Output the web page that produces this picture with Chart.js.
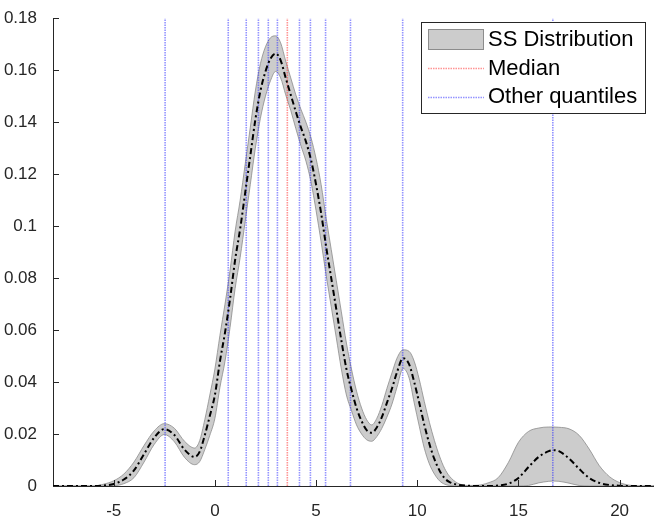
<!DOCTYPE html>
<html><head><meta charset="utf-8">
<script src="https://cdn.jsdelivr.net/npm/chart.js@4"></script>
<style>html,body{margin:0;padding:0;background:#fff;} #wrap{width:654px;height:519px;position:relative;}</style>
</head><body><div id="wrap"><canvas id="c" width="654" height="519"></canvas></div>
<script>
const xGrid = [-8,-6,-5.5,-5,-4.5,-4,-3.5,-3,-2.5,-2,-1.5,-1,-0.75,-0.5,-0.25,0,0.25,0.5,0.75,1,1.25,1.5,1.75,2,2.25,2.5,2.75,3,3.25,3.5,3.75,4,4.25,4.5,4.75,5,5.25,5.5,5.75,6,6.25,6.5,6.75,7,7.25,7.5,7.75,8,8.25,8.5,8.75,9,9.3,9.6,9.85,10.1,10.35,10.6,10.85,11.1,11.35,11.6,12,12.5,13,13.5,14,14.5,15,15.5,16,16.5,16.75,17,17.5,18,18.5,19,19.5,20,20.5,21,21.7];
const meanPdf = [0,0,0.0002,0.0008,0.0025,0.006,0.0123,0.0186,0.0219,0.0196,0.014,0.0112,0.0132,0.0195,0.027,0.035,0.048,0.059,0.072,0.087,0.099,0.113,0.127,0.141,0.152,0.1595,0.1645,0.1664,0.1638,0.157,0.1505,0.144,0.138,0.1325,0.1255,0.116,0.105,0.092,0.080,0.068,0.056,0.045,0.037,0.030,0.025,0.0215,0.0205,0.0225,0.0265,0.032,0.0375,0.0438,0.0492,0.0468,0.040,0.032,0.0235,0.0162,0.0103,0.006,0.003,0.0015,0.0005,0.0001,0,0,0.0002,0.0009,0.0031,0.0073,0.0112,0.0134,0.0138,0.0134,0.0106,0.0066,0.0031,0.0012,0.0004,0.0001,0,0,0];
const upperBand = [0,0,0.0007,0.002,0.0046,0.0092,0.0156,0.0212,0.0240,0.0222,0.0172,0.0146,0.0175,0.0255,0.035,0.045,0.058,0.070,0.083,0.098,0.110,0.124,0.138,0.152,0.1625,0.1690,0.1725,0.1732,0.1705,0.1635,0.157,0.1505,0.145,0.140,0.134,0.126,0.116,0.103,0.091,0.079,0.067,0.055,0.045,0.0365,0.030,0.0255,0.0235,0.026,0.031,0.0375,0.0435,0.0492,0.0524,0.0518,0.048,0.041,0.0325,0.0245,0.0175,0.0115,0.0068,0.0037,0.0011,0.0002,0.0003,0.0012,0.0032,0.009,0.0168,0.021,0.0223,0.0227,0.0227,0.0226,0.0220,0.0195,0.0142,0.0078,0.0036,0.0013,0.0003,0,0];
const lowerBand = [0,0,0,0.0001,0.0009,0.0032,0.0092,0.0160,0.0198,0.0170,0.0110,0.0082,0.0094,0.0140,0.0195,0.026,0.038,0.048,0.061,0.076,0.088,0.102,0.116,0.130,0.1415,0.150,0.156,0.1595,0.1570,0.1505,0.1445,0.1375,0.131,0.125,0.117,0.106,0.094,0.081,0.069,0.057,0.045,0.035,0.029,0.0235,0.020,0.0178,0.0172,0.019,0.0222,0.0265,0.0315,0.038,0.0452,0.0415,0.032,0.023,0.0145,0.0085,0.0046,0.002,0.0007,0.0002,0,0,0,0,0,0,0,0.0002,0.0012,0.0018,0.0019,0.0018,0.0011,0.0002,0,0,0,0,0,0,0];
const medianQ = 3.58;
const otherQ = [-2.46,0.66,1.55,2.15,2.64,3.09,4.18,4.72,5.47,6.70,9.28,16.7];
const xTicks = [-5,0,5,10,15,20];
const xTickLabels = ['-5','0','5','10','15','20'];
const yTicks = [0,0.02,0.04,0.06,0.08,0.1,0.12,0.14,0.16,0.18];
const yTickLabels = ['0','0.02','0.04','0.06','0.08','0.1','0.12','0.14','0.16','0.18'];
const legendLabels = ['SS Distribution','Median','Other quantiles'];

const FONT = '"Liberation Sans", Arial, sans-serif';
const AX = '#262626';
const BLUE = 'rgba(40,40,255,0.5)';
const RED = 'rgba(255,40,40,0.5)';
const pts = arr => xGrid.map((x,i)=>({x:x,y:arr[i]}));
const vline = q => [{x:q,y:0},{x:q,y:0.18}];

const datasets = [
  {data:pts(upperBand), borderColor:'#8c8c8c', borderWidth:0.8, backgroundColor:'#cccccc', fill:'+1', pointRadius:0, cubicInterpolationMode:'monotone', order:5},
  {data:pts(lowerBand), borderColor:'#8c8c8c', borderWidth:0.8, fill:false, pointRadius:0, cubicInterpolationMode:'monotone', order:4},
  {data:vline(medianQ), borderColor:RED, borderWidth:1.6, borderDash:[1.5,1], pointRadius:0, fill:false, order:2}
];
otherQ.forEach(q=>datasets.push({data:vline(q), borderColor:BLUE, borderWidth:1.6, borderDash:[1.5,1], pointRadius:0, fill:false, order:2}));
datasets.push({data:pts(meanPdf), borderColor:'#000', borderWidth:2, borderDash:[6,3,2,3], pointRadius:0, fill:false, cubicInterpolationMode:'monotone', order:1});

const overlay = {
  id:'overlay',
  afterDraw(chart){
    const {ctx, chartArea:a, scales:{x,y}} = chart;
    ctx.save();
    ctx.strokeStyle=AX; ctx.lineWidth=1;
    ctx.beginPath();
    xTicks.forEach(v=>{const px=Math.round(x.getPixelForValue(v))+0.5; ctx.moveTo(px,a.bottom); ctx.lineTo(px,a.bottom-6);});
    yTicks.forEach(v=>{const py=Math.round(y.getPixelForValue(v))+0.5; ctx.moveTo(a.left,py); ctx.lineTo(a.left+6,py);});
    ctx.stroke();
    // legend
    const bx=421.5, by=22.5, bw=224, bh=91;
    ctx.fillStyle='#fff'; ctx.fillRect(bx,by,bw,bh);
    ctx.strokeStyle=AX; ctx.strokeRect(bx,by,bw,bh);
    ctx.fillStyle='#cccccc'; ctx.fillRect(428,29,56,21);
    ctx.strokeStyle='#8c8c8c'; ctx.strokeRect(428.5,29.5,55,20);
    ctx.lineWidth=1.6;
    ctx.setLineDash([1.5,1]);
    ctx.strokeStyle=RED; ctx.beginPath(); ctx.moveTo(428,68.5); ctx.lineTo(484,68.5); ctx.stroke();
    ctx.strokeStyle=BLUE; ctx.beginPath(); ctx.moveTo(428,97.5); ctx.lineTo(484,97.5); ctx.stroke();
    ctx.setLineDash([]);
    ctx.fillStyle='#000'; ctx.font='22px '+FONT; ctx.textBaseline='middle'; ctx.textAlign='left';
    ctx.fillText(legendLabels[0],488,40);
    ctx.fillText(legendLabels[1],488,69);
    ctx.fillText(legendLabels[2],488,97);
    ctx.restore();
  }
};

new Chart(document.getElementById('c'), {
  type:'line',
  data:{datasets},
  options:{
    responsive:false, animation:false, devicePixelRatio:1, events:[],
    layout:{padding:{top:7,right:0,left:0,bottom:0}},
    plugins:{legend:{display:false}, tooltip:{enabled:false}},
    scales:{
      x:{type:'linear', min:-8, max:21.7,
        afterBuildTicks:s=>{s.ticks=xTicks.map(v=>({value:v}));},
        afterFit:s=>{s.height=33;},
        grid:{display:false}, border:{display:true,color:AX,width:1},
        ticks:{padding:7, color:AX, font:{family:FONT,size:17}, maxRotation:0, autoSkip:false,
          callback:(v)=>xTickLabels[xTicks.indexOf(v)]}},
      y:{type:'linear', min:0, max:0.18,
        afterBuildTicks:s=>{s.ticks=yTicks.map(v=>({value:v}));},
        afterFit:s=>{s.width=53;},
        grid:{display:false}, border:{display:true,color:AX,width:1},
        ticks:{padding:8, color:AX, font:{family:FONT,size:17}, autoSkip:false,
          callback:(v)=>yTickLabels[yTicks.findIndex(t=>Math.abs(t-v)<1e-9)]}}
    }
  },
  plugins:[overlay]
});
</script></body></html>
